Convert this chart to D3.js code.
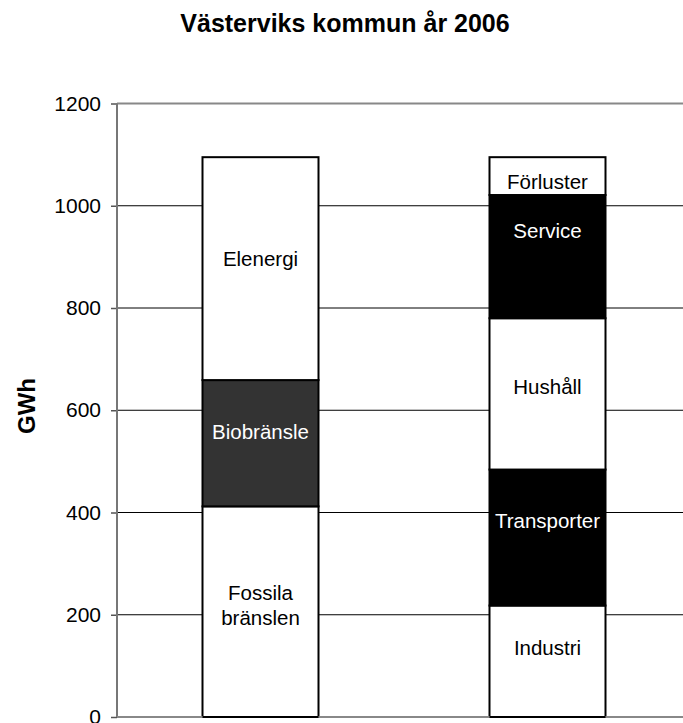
<!DOCTYPE html>
<html>
<head>
<meta charset="utf-8">
<script src="https://cdn.jsdelivr.net/npm/d3@7"></script>
<style>
  body { margin: 0; background: #fff; }
  text { font-family: Arial, "Liberation Sans", sans-serif; }
</style>
</head>
<body>
<div id="chart"></div>
<script>
// stacks (bottom to top)
var bars = ["Tillförd", "Använd"];
var supplyNames = ["Fossila bränslen", "Biobränsle", "Elenergi"];
var supplyValues = [412, 247, 436];
var useNames = ["Industri", "Transporter", "Hushåll", "Service", "Förluster"];
var useValues = [218, 266, 296, 241, 74];
// where each label sits, in GWh
var supplyLabelAt = [219, 557, 897];
var useLabelAt = [135, 384, 646, 950, 1046];
var yTicks = [0, 200, 400, 600, 800, 1000, 1200];

var supplyFill = ["#ffffff", "#333333", "#ffffff"];
var useFill = ["#ffffff", "#000000", "#ffffff", "#000000", "#ffffff"];

var W = 683, H = 723;
var margin = {top: 103.5, right: -10, bottom: 6, left: 117},
    width = W - margin.left - margin.right,
    height = H - margin.top - margin.bottom;
var barWidth = 116;

var svg = d3.select("#chart").append("svg")
    .attr("width", W)
    .attr("height", H);

svg.append("text")
    .attr("x", 345)
    .attr("y", 32)
    .attr("text-anchor", "middle")
    .style("font-size", "25px")
    .style("font-weight", "bold")
    .text("Västerviks kommun år 2006");

svg.append("text")
    .attr("transform", "translate(35,406) rotate(-90)")
    .attr("text-anchor", "middle")
    .style("font-size", "24px")
    .style("font-weight", "bold")
    .text("GWh");

var g = svg.append("g")
    .attr("transform", "translate(" + margin.left + "," + margin.top + ")");

var y = d3.scaleLinear().domain([0, 1200]).range([height, 0]);
// bar centres
var x = d3.scalePoint().domain(bars).range([0, 574]).padding(0.5);

// gridlines
g.append("g")
    .selectAll("line")
    .data(yTicks.filter(function(d){ return d > 0; }))
    .enter().append("line")
    .attr("x1", 0).attr("x2", width)
    .attr("y1", function(d){ return y(d); })
    .attr("y2", function(d){ return y(d); })
    .attr("stroke", function(d){ return d == 1200 ? "#888" : "#000"; })
    .attr("stroke-width", function(d){ return d == 1200 ? 2 : 1; });

// y axis
var yAxis = g.append("g")
    .call(d3.axisLeft(y).tickValues(yTicks).tickFormat(d3.format("d")).tickSize(6).tickPadding(10));
yAxis.select(".domain").remove();
yAxis.selectAll(".tick line").attr("stroke", "#555").attr("stroke-width", 1.5);
yAxis.selectAll(".tick text")
    .style("font-size", "21px")
    .style("font-family", "Arial, 'Liberation Sans', sans-serif")
    .attr("fill", "#000");

function drawStack(name, names, values, fills, labelAt) {
    var base = 0;
    var segs = values.map(function(v, i){
        var s = {name: names[i], y0: base, y1: base + v, fill: fills[i], at: labelAt[i]};
        base += v;
        return s;
    });
    var cx = x(name);
    var bg = g.append("g");
    bg.selectAll("rect")
        .data(segs)
        .enter().append("rect")
        .attr("x", cx - barWidth / 2)
        .attr("width", barWidth)
        .attr("y", function(d){ return y(d.y1); })
        .attr("height", function(d){ return y(d.y0) - y(d.y1); })
        .attr("fill", function(d){ return d.fill; })
        .attr("stroke", "#000")
        .attr("stroke-width", 2);

    segs.forEach(function(d){
        var lines = d.name == "Fossila bränslen" ? ["Fossila", "bränslen"] : [d.name];
        var t = bg.append("text")
            .attr("x", cx)
            .attr("y", y(d.at))
            .attr("text-anchor", "middle")
            .attr("fill", d.fill == "#ffffff" ? "#000" : "#fff")
            .style("font-size", "20.5px");
        lines.forEach(function(l, i){
            t.append("tspan")
                .attr("x", cx)
                .attr("dy", i == 0 ? (0.35 - (lines.length - 1) * 0.6) + "em" : "1.2em")
                .text(l);
        });
    });
}

drawStack(bars[0], supplyNames, supplyValues, supplyFill, supplyLabelAt);
drawStack(bars[1], useNames, useValues, useFill, useLabelAt);

// axis lines
g.append("line")
    .attr("x1", 0).attr("x2", 0)
    .attr("y1", 0).attr("y2", height)
    .attr("stroke", "#777").attr("stroke-width", 2);
g.append("line")
    .attr("x1", 0).attr("x2", width)
    .attr("y1", height).attr("y2", height)
    .attr("stroke", "#888").attr("stroke-width", 2);
// bar bottoms over the axis
g.selectAll(".base")
    .data(bars)
    .enter().append("line")
    .attr("x1", function(d){ return x(d) - barWidth / 2; })
    .attr("x2", function(d){ return x(d) + barWidth / 2; })
    .attr("y1", height).attr("y2", height)
    .attr("stroke", "#000").attr("stroke-width", 2);
</script>
</body>
</html>
